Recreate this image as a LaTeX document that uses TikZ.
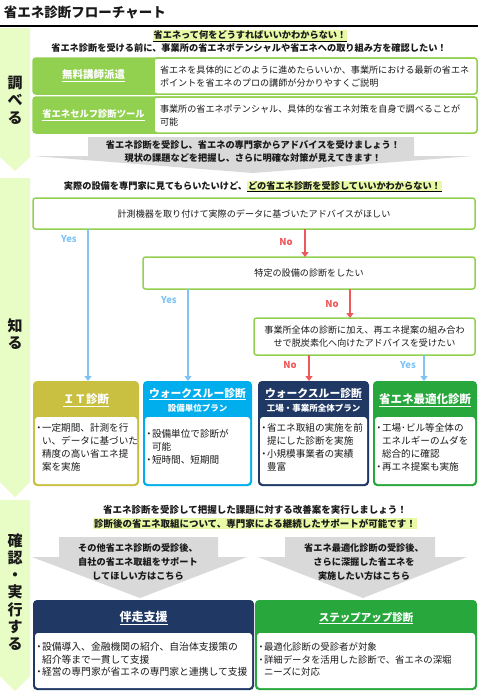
\documentclass[tikz,border=0pt]{standalone}
\usepackage{fontspec}
\setmainfont{Noto Sans CJK JP}
\usetikzlibrary{arrows.meta}
\definecolor{colbg}{RGB}{232,252,198}
\definecolor{hl}{RGB}{232,250,165}
\definecolor{lg}{RGB}{146,208,80}
\definecolor{yesc}{RGB}{128,196,246}
\definecolor{noc}{RGB}{238,88,88}
\definecolor{itc}{RGB}{201,192,66}
\definecolor{wtc}{RGB}{0,174,238}
\definecolor{navy}{RGB}{31,56,100}
\definecolor{optc}{RGB}{40,168,60}
\definecolor{grayarr}{RGB}{217,217,217}
\definecolor{txt}{RGB}{25,25,25}
\newcommand\mybul{\makebox[6pt][c]{・}}
\newcommand\myind{\hspace*{6pt}}
\begin{document}
\begin{tikzpicture}[x=1pt,y=-1pt,
  every node/.style={text=txt, inner sep=0pt, outer sep=0pt},
  hd/.style={font={\fontsize{9.2}{13}\selectfont\bfseries}, align=center},
  colfont/.style={font={\fontsize{15}{17.3}\selectfont\bfseries}, align=center},
  bodyt/.style={font={\fontsize{9.6}{13}\selectfont}, align=left, anchor=west},
  rowt/.style={font={\fontsize{9.1}{13.5}\selectfont}, align=left, anchor=west},
  card/.style={anchor=north west, rounded corners=4pt},
  cardbody/.style={anchor=north west, fill=white, rounded corners=3pt},
  cardttl/.style={text=white, font={\fontsize{11.5}{13}\selectfont\bfseries}},
  cardsub/.style={text=white, font={\fontsize{8.5}{10}\selectfont\bfseries}},
  qbox/.style={anchor=north west, draw=lg, line width=1.5pt, rounded corners=2.5pt, fill=white, font={\fontsize{9.1}{13}\selectfont}, align=center},
  yesarr/.style={draw=yesc, line width=2pt, -{Triangle[width=7pt,length=5pt]}},
  noarr/.style={draw=noc, line width=2pt, -{Triangle[width=7pt,length=5pt]}},
  yeslbl/.style={text=yesc, font={\fontsize{9.5}{10}\selectfont\bfseries}},
  nolbl/.style={text=noc, font={\fontsize{9.5}{10}\selectfont\bfseries}},
  grayfill/.style={fill=grayarr}
]
\useasboundingbox (0,0) rectangle (478,691);

% title
\node[anchor=west, font={\fontsize{13.5}{15}\selectfont\bfseries}] (title) at (4,12.5) {省エネ診断フローチャート};
\draw[line width=2.5pt] (0,26) -- (478,26);

% side column
\fill[colbg] (0,28) -- (30,28) -- (30,157) -- (15,171) -- (0,157) -- cycle;
\fill[colbg] (0,178) -- (30,178) -- (30,482) -- (15,497) -- (0,482) -- cycle;
\fill[colbg] (0,500) -- (30,500) -- (30,676) -- (15,691) -- (0,676) -- cycle;
\node[colfont] (lab1) at (15,100) {調\\べ\\る};
\node[colfont] (lab2) at (15,334) {知\\る};
\node[colfont] (lab3) at (15,592) {確\\認\\・\\実\\行\\す\\る};

% section 1
\node[hd, fill=hl, inner xsep=1pt, inner ysep=1pt] (h1) at (250,35.5) {省エネって何をどうすればいいかわからない！};
\draw[line width=0.6pt] (h1.south west) -- (h1.south east);
\node[hd] (h2) at (249,48) {省エネ診断を受ける前に、事業所の省エネポテンシャルや省エネへの取り組み方を確認したい！};

\node[anchor=north west, fill=lg, draw=lg, line width=1.5pt, rounded corners=3pt, minimum width=444pt, minimum height=36pt] (r1) at (33,58) {};
\node[anchor=north west, fill=white, draw=lg, line width=1.5pt, rounded corners=3pt, minimum width=323pt, minimum height=36pt] (r1b) at (154,58) {};
\node[text=white, font={\fontsize{10.5}{12}\selectfont\bfseries}] (r1l) at (93.5,76) {\underline{無料講師派遣}};
\node[rowt] (r1t) at (160,76.5) {省エネを具体的にどのように進めたらいいか、事業所における最新の省エネ\\ポイントを省エネのプロの講師が分かりやすくご説明};

\node[anchor=north west, fill=lg, draw=lg, line width=1.5pt, rounded corners=3pt, minimum width=444pt, minimum height=36pt] (r2) at (33,97) {};
\node[anchor=north west, fill=white, draw=lg, line width=1.5pt, rounded corners=3pt, minimum width=323pt, minimum height=36pt] (r2b) at (154,97) {};
\node[text=white, font={\fontsize{9.3}{12}\selectfont\bfseries}] (r2l) at (93.5,115) {\underline{省エネセルフ診断ツール}};
\node[rowt] (r2t) at (160,115.5) {事業所の省エネポテンシャル、具体的な省エネ対策を自身で調べることが\\可能};

% gray arrow 1
\fill[grayfill] (88,137) -- (414,137) -- (414,156) -- (473,156) -- (253,173) -- (33,156) -- (88,156) -- cycle;
\node[hd] (g1) at (253,151.5) {省エネ診断を受診し、省エネの専門家からアドバイスを受けましょう！\\現状の課題などを把握し、さらに明確な対策が見えてきます！};

% section 2
\node[hd, anchor=east] (s2a) at (247,186) {実際の設備を専門家に見てもらいたいけど、};
\node[hd, anchor=west, fill=hl, inner xsep=1pt, inner ysep=1pt] (s2b) at (247,186) {どの省エネ診断を受診していいかわからない！};
\draw[line width=0.6pt] (s2b.south west) -- (s2b.south east);

\node[qbox, minimum width=442pt, minimum height=31pt] (qa) at (33,198) {計測機器を取り付けて実際のデータに基づいたアドバイスがほしい};
\node[qbox, minimum width=332pt, minimum height=32pt] (qb) at (143,257) {特定の設備の診断をしたい};
\node[qbox, minimum width=221pt, minimum height=37pt] (qc) at (254,318) {事業所全体の診断に加え、再エネ提案の組み合わ\\せで脱炭素化へ向けたアドバイスを受けたい};

% cards
\node[card, fill=itc, minimum width=106pt, minimum height=105pt] (it) at (33,381) {};
\node[cardbody, minimum width=102pt, minimum height=67pt] (itbody) at (35,417) {};
\node[cardttl] (itttl) at (86,400) {\underline{ＩＴ診断}};
\node[bodyt] (ittxt) at (36,447) {\mybul 一定期間、計測を行\\\myind い、データに基づいた\\\myind 精度の高い省エネ提\\\myind 案を実施};

\node[card, fill=wtc, minimum width=109pt, minimum height=105pt] (wa) at (143,381) {};
\node[cardbody, minimum width=105pt, minimum height=67pt] (wabody) at (145,417) {};
\node[cardttl, font={\fontsize{10.8}{13}\selectfont\bfseries}] (wattl) at (197.5,394) {\underline{ウォークスルー診断}};
\node[cardsub] (wasub) at (197.5,408) {設備単位プラン};
\node[bodyt] (watxt) at (146,447) {\mybul 設備単位で診断が\\\myind 可能\\\mybul 短時間、短期間};

\node[card, fill=navy, minimum width=111pt, minimum height=105pt] (wb) at (258,381) {};
\node[cardbody, minimum width=107pt, minimum height=67pt] (wbbody) at (260,417) {};
\node[cardttl, font={\fontsize{10.8}{13}\selectfont\bfseries}] (wbttl) at (313.5,394) {\underline{ウォークスルー診断}};
\node[cardsub] (wbsub) at (313.5,408) {工場・事業所全体プラン};
\node[bodyt] (wbtxt) at (261,447) {\mybul 省エネ取組の実施を前\\\myind 提にした診断を実施\\\mybul 小規模事業者の実績\\\myind 豊富};

\node[card, fill=optc, minimum width=104pt, minimum height=105pt] (op) at (373,381) {};
\node[cardbody, minimum width=100pt, minimum height=67pt] (opbody) at (375,417) {};
\node[cardttl] (opttl) at (425,400) {\underline{省エネ最適化診断}};
\node[bodyt] (optxt) at (376,447) {\mybul 工場･ビル等全体の\\\myind エネルギーのムダを\\\myind 総合的に確認\\\mybul 再エネ提案も実施};

% arrows
\draw[yesarr] (qa.south -| 88,0) -- (it.north -| 88,0);
\draw[noarr] (qa.south -| 305,0) -- (qb.north -| 305,0);
\draw[yesarr] (qb.south -| 188,0) -- (wa.north -| 188,0);
\draw[noarr] (qb.south -| 350,0) -- (qc.north -| 350,0);
\draw[noarr] (qc.south -| 309,0) -- (wb.north -| 309,0);
\draw[yesarr] (qc.south -| 424,0) -- (op.north -| 424,0);
\node[yeslbl] (y1) at (69,239) {Yes};
\node[nolbl] (n1) at (286,242) {No};
\node[yeslbl] (y2) at (169,300) {Yes};
\node[nolbl] (n2) at (332,304) {No};
\node[nolbl] (n3) at (290,365) {No};
\node[yeslbl] (y3) at (408,365) {Yes};

% section 3
\node[hd, font={\fontsize{9.5}{13}\selectfont\bfseries}] (h3a) at (255,510) {省エネ診断を受診して把握した課題に対する改善案を実行しましょう！};
\node[hd, font={\fontsize{9.5}{13}\selectfont\bfseries}, fill=hl, inner xsep=1pt, inner ysep=1pt] (h3b) at (255,523.5) {診断後の省エネ取組について、専門家による継続したサポートが可能です！};

\fill[grayfill] (59,537) -- (218,537) -- (218,557) -- (247,557) -- (140,598) -- (32,557) -- (59,557) -- cycle;
\fill[grayfill] (285,537) -- (435,537) -- (435,557) -- (467,557) -- (363,598) -- (258,557) -- (285,557) -- cycle;
\node[hd, font={\fontsize{9.2}{14}\selectfont\bfseries}] (g2) at (138,562) {その他省エネ診断の受診後、\\自社の省エネ取組をサポート\\してほしい方はこちら};
\node[hd, font={\fontsize{9.2}{14}\selectfont\bfseries}] (g3) at (364,562) {省エネ最適化診断の受診後、\\さらに深掘した省エネを\\実施したい方はこちら};

\node[card, fill=navy, minimum width=221pt, minimum height=90pt] (bs) at (33,600) {};
\node[cardbody, minimum width=217pt, minimum height=55pt] (bsbody) at (35,633) {};
\node[cardttl, font={\fontsize{12}{13}\selectfont\bfseries}] (bsttl) at (143.5,618) {\underline{伴走支援}};
\node[bodyt, font={\fontsize{9.8}{12.5}\selectfont}] (bstxt) at (36,659.5) {\mybul 設備導入、金融機関の紹介、自治体支援策の\\\myind 紹介等まで一貫して支援\\\mybul 経営の専門家が省エネの専門家と連携して支援};

\node[card, fill=optc, minimum width=222pt, minimum height=90pt] (su) at (255,600) {};
\node[cardbody, minimum width=218pt, minimum height=55pt] (subody) at (257,633) {};
\node[cardttl, font={\fontsize{10.5}{13}\selectfont\bfseries}] (suttl) at (366,618) {\underline{ステップアップ診断}};
\node[bodyt, font={\fontsize{9.4}{12.5}\selectfont}] (sutxt) at (258,659.5) {\mybul 最適化診断の受診者が対象\\\mybul 詳細データを活用した診断で、省エネの深堀\\\myind ニーズに対応};
\end{tikzpicture}
\end{document}
